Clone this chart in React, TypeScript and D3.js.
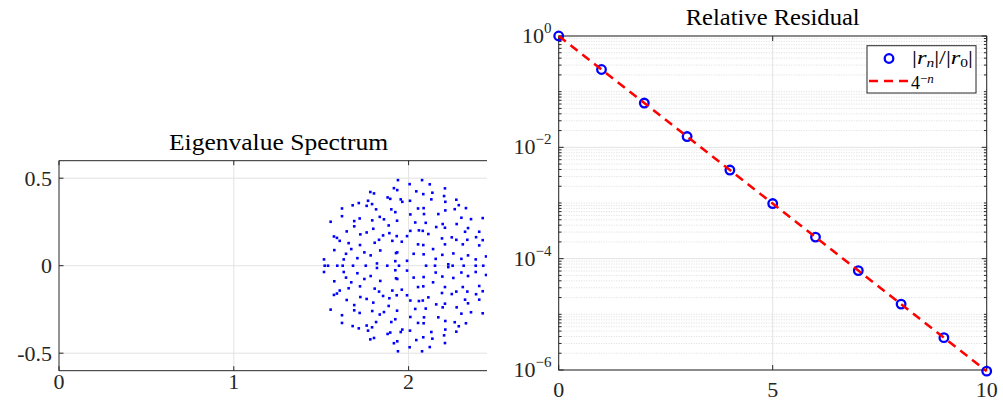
import React from 'react';
import * as d3 from 'd3';

// ---------------- data ----------------
// eigenvalues (upper half-plane)
const eigUpperRe = [
  1.781, 1.802, 1.880, 1.768, 1.791, 1.715, 1.680, 1.760, 1.619, 1.814, 1.619, 1.835, 1.720, 1.859, 1.554, 1.689, 1.792, 1.689, 1.886, 1.646, 1.798, 1.760, 1.724, 1.890, 1.854, 1.573, 1.590, 1.606, 1.831, 1.806, 1.657, 1.722, 1.672, 1.575, 1.838, 1.747, 1.642, 1.783, 1.707, 1.629, 1.516, 1.819,
  1.939, 2.006, 2.077, 2.121, 1.916, 1.935, 2.044, 2.084, 2.136, 1.895, 1.955, 1.964, 2.008, 2.130, 2.054, 2.086, 1.901, 1.924, 2.010, 2.088, 2.170, 1.934, 2.038, 2.098, 2.158, 2.059, 2.081, 2.010, 2.113, 1.932, 1.991, 1.907, 1.961, 2.054, 2.084, 2.140, 1.928, 1.935, 2.029, 2.086, 2.155, 1.924, 1.991,
  2.208, 2.203, 2.210, 2.273, 2.210, 2.264, 2.287, 2.328, 2.302, 2.357, 2.424, 2.195, 2.208, 2.275, 2.340, 2.323, 2.404, 2.191, 2.247, 2.273, 2.336, 2.386, 2.424, 2.208, 2.310, 2.404, 2.193, 2.256, 2.302, 2.340, 2.384, 2.443, 2.227,
];
const eigUpperIm = [
  0.421, 0.413, 0.390, 0.371, 0.352, 0.358, 0.345, 0.342, 0.327, 0.322, 0.283, 0.279, 0.270, 0.265, 0.251, 0.255, 0.259, 0.225, 0.230, 0.196, 0.211, 0.190, 0.179, 0.186, 0.173, 0.167, 0.159, 0.142, 0.148, 0.131, 0.129, 0.118, 0.095, 0.089, 0.087, 0.076, 0.068, 0.059, 0.043, 0.036, 0.036, 0.013,
  0.489, 0.466, 0.489, 0.465, 0.443, 0.432, 0.425, 0.409, 0.417, 0.382, 0.379, 0.365, 0.371, 0.379, 0.327, 0.329, 0.322, 0.306, 0.293, 0.295, 0.295, 0.257, 0.247, 0.245, 0.221, 0.202, 0.199, 0.199, 0.181, 0.169, 0.169, 0.142, 0.137, 0.122, 0.118, 0.095, 0.072, 0.076, 0.068, 0.065, 0.039, 0.026, 0.028,
  0.442, 0.398, 0.365, 0.377, 0.316, 0.323, 0.346, 0.329, 0.274, 0.266, 0.272, 0.238, 0.217, 0.238, 0.215, 0.194, 0.194, 0.156, 0.162, 0.148, 0.148, 0.163, 0.146, 0.122, 0.122, 0.116, 0.062, 0.070, 0.039, 0.059, 0.036, 0.053, 0.008,
];
// eigenvalues (lower half-plane: complex conjugates)
const eigLowerRe = [
  1.781, 1.802, 1.880, 1.768, 1.791, 1.715, 1.680, 1.760, 1.619, 1.814, 1.619, 1.835, 1.720, 1.859, 1.554, 1.689, 1.792, 1.689, 1.886, 1.646, 1.798, 1.760, 1.724, 1.890, 1.854, 1.573, 1.590, 1.606, 1.831, 1.806, 1.657, 1.722, 1.672, 1.575, 1.838, 1.747, 1.642, 1.783, 1.707, 1.629, 1.516, 1.819,
  1.939, 2.006, 2.077, 2.121, 1.916, 1.935, 2.044, 2.084, 2.136, 1.895, 1.955, 1.964, 2.008, 2.130, 2.054, 2.086, 1.901, 1.924, 2.010, 2.088, 2.170, 1.934, 2.038, 2.098, 2.158, 2.059, 2.081, 2.010, 2.113, 1.932, 1.991, 1.907, 1.961, 2.054, 2.084, 2.140, 1.928, 1.935, 2.029, 2.086, 2.155, 1.924, 1.991,
  2.208, 2.203, 2.210, 2.273, 2.210, 2.264, 2.287, 2.328, 2.302, 2.357, 2.424, 2.195, 2.208, 2.275, 2.340, 2.323, 2.404, 2.191, 2.247, 2.273, 2.336, 2.386, 2.424, 2.208, 2.310, 2.404, 2.193, 2.256, 2.302, 2.340, 2.384, 2.443, 2.227,
];
const eigLowerIm = [
  -0.421, -0.413, -0.390, -0.371, -0.352, -0.358, -0.345, -0.342, -0.327, -0.322, -0.283, -0.279, -0.270, -0.265, -0.251, -0.255, -0.259, -0.225, -0.230, -0.196, -0.211, -0.190, -0.179, -0.186, -0.173, -0.167, -0.159, -0.142, -0.148, -0.131, -0.129, -0.118, -0.095, -0.089, -0.087, -0.076, -0.068, -0.059, -0.043, -0.036, -0.036, -0.013,
  -0.489, -0.466, -0.489, -0.465, -0.443, -0.432, -0.425, -0.409, -0.417, -0.382, -0.379, -0.365, -0.371, -0.379, -0.327, -0.329, -0.322, -0.306, -0.293, -0.295, -0.295, -0.257, -0.247, -0.245, -0.221, -0.202, -0.199, -0.199, -0.181, -0.169, -0.169, -0.142, -0.137, -0.122, -0.118, -0.095, -0.072, -0.076, -0.068, -0.065, -0.039, -0.026, -0.028,
  -0.442, -0.398, -0.365, -0.377, -0.316, -0.323, -0.346, -0.329, -0.274, -0.266, -0.272, -0.238, -0.217, -0.238, -0.215, -0.194, -0.194, -0.156, -0.162, -0.148, -0.148, -0.163, -0.146, -0.122, -0.122, -0.116, -0.062, -0.070, -0.039, -0.059, -0.036, -0.053, -0.008,
];
// real eigenvalues
const eigRealRe = [1.520, 1.539, 1.592, 1.623, 1.682, 1.755, 1.878, 1.945, 2.100, 2.151, 2.252, 2.315, 2.384, 2.427];

const leftXTicks = [0, 1, 2];
const leftXLabels = ['0', '1', '2'];
const leftYTicks = [-0.5, 0, 0.5];
const leftYLabels = ['-0.5', '0', '0.5'];

// relative residual
const iterN = [0, 1, 2, 3, 4, 5, 6, 7, 8, 9, 10];
const residual = [1, 0.25, 0.0625, 0.015625, 0.00390625, 9.766e-4, 2.441e-4, 6.104e-5, 1.526e-5, 3.815e-6, 9.537e-7];
const rateRef = [1, 0.25, 0.0625, 0.015625, 0.00390625, 9.766e-4, 2.441e-4, 6.104e-5, 1.526e-5, 3.815e-6, 9.537e-7];

const rightXTicks = [0, 5, 10];
const rightXLabels = ['0', '5', '10'];
const rightYTicks = [1, 1e-2, 1e-4, 1e-6];
const rightYExp = ['0', '\u22122', '\u22124', '\u22126'];

// ---------------- styling ----------------
const FONT = '"Liberation Serif", "DejaVu Serif", serif';
const AX = '#262626';
const GRID = '#e3e3e3';
const MINOR = '#d4d4d4';
const BLUE = '#0000ff';
const RED = '#ff0000';

export default function App() {
  // left axes
  const lx = d3.scaleLinear().domain([0, 2.5]).range([59, 496]);
  const ly = d3.scaleLinear().domain([-0.6, 0.6]).range([370.7, 160.7]);
  const lRight = 487;

  // right axes
  const rx = d3.scaleLinear().domain([0, 10]).range([558.7, 986.7]);
  const ry = d3.scaleLog().domain([1e-6, 1]).range([370, 36]);

  const minorVals: number[] = [];
  for (let k = -6; k < 0; k++) {
    for (let m = 1; m <= 9; m++) {
      const v = m * Math.pow(10, k);
      if (m === 1 && k % 2 === 0) continue;
      minorVals.push(v);
    }
  }

  const line = d3.line<number>().x((_, i) => rx(iterN[i])).y((d) => ry(d));

  const upper = eigUpperRe.map((r, i) => [r, eigUpperIm[i]]);
  const lower = eigLowerRe.map((r, i) => [r, eigLowerIm[i]]);
  const reals = eigRealRe.map((r) => [r, 0]);
  const eigs = [...upper, ...lower, ...reals];

  return (
    <svg width={1003} height={401} style={{ position: 'absolute', left: 0, top: 0, background: '#fff' }} fontFamily={FONT}>
      <defs>
        <clipPath id="lclip">
          <rect x={59} y={160.7} width={lRight - 59} height={210} />
        </clipPath>
      </defs>
      <rect x={0} y={0} width={1003} height={401} fill="#fff" />

      {/* ---------- left: eigenvalue spectrum ---------- */}
      <g>
        {leftXTicks.filter((t) => t > 0).map((t) => (
          <line key={'lgx' + t} x1={lx(t)} x2={lx(t)} y1={ly(-0.6)} y2={ly(0.6)} stroke={GRID} strokeWidth={1} />
        ))}
        {leftYTicks.map((t) => (
          <line key={'lgy' + t} x1={59} x2={lRight} y1={ly(t)} y2={ly(t)} stroke={GRID} strokeWidth={1} />
        ))}
        <g clipPath="url(#lclip)">
          {eigs.map((p, i) => (
            <rect key={'e' + i} x={lx(p[0]) - 1.3} y={ly(p[1]) - 1.3} width={2.6} height={2.6} fill={BLUE} />
          ))}
        </g>
        {/* axes lines */}
        <line x1={59} x2={lRight} y1={ly(-0.6)} y2={ly(-0.6)} stroke={AX} strokeWidth={1} />
        <line x1={59} x2={lRight} y1={ly(0.6)} y2={ly(0.6)} stroke={AX} strokeWidth={1} />
        <line x1={59} x2={59} y1={ly(-0.6)} y2={ly(0.6)} stroke={AX} strokeWidth={1} />
        {leftXTicks.map((t) => (
          <g key={'lxt' + t}>
            <line x1={lx(t)} x2={lx(t)} y1={ly(-0.6)} y2={ly(-0.6) - 4.5} stroke={AX} />
            <line x1={lx(t)} x2={lx(t)} y1={ly(0.6)} y2={ly(0.6) + 4.5} stroke={AX} />
          </g>
        ))}
        {leftYTicks.map((t) => (
          <line key={'lyt' + t} x1={59} x2={63.5} y1={ly(t)} y2={ly(t)} stroke={AX} />
        ))}
        {leftXTicks.map((t, i) => (
          <text key={'lxl' + t} x={lx(t)} y={388.5} textAnchor="middle" fontSize={22} fill={AX}>{leftXLabels[i]}</text>
        ))}
        {leftYTicks.map((t, i) => (
          <text key={'lyl' + t} x={52} y={ly(t) + 7.5} textAnchor="end" fontSize={22} fill={AX}>{leftYLabels[i]}</text>
        ))}
        <text x={278.5} y={149.5} textAnchor="middle" fontSize={24} textLength={219} lengthAdjust="spacingAndGlyphs" fill="#000">Eigenvalue Spectrum</text>
      </g>

      {/* ---------- right: relative residual ---------- */}
      <g>
        {minorVals.map((v, i) => (
          <line key={'mg' + i} x1={rx(0)} x2={rx(10)} y1={ry(v)} y2={ry(v)} stroke={MINOR} strokeWidth={0.8} strokeDasharray="1,1.5" />
        ))}
        {rightYTicks.map((t) => (
          <line key={'rgy' + t} x1={rx(0)} x2={rx(10)} y1={ry(t)} y2={ry(t)} stroke={GRID} strokeWidth={1} />
        ))}
        {rightXTicks.map((t) => (
          <line key={'rgx' + t} x1={rx(t)} x2={rx(t)} y1={ry(1e-6)} y2={ry(1)} stroke={GRID} strokeWidth={1} />
        ))}
        {/* box */}
        <rect x={rx(0)} y={ry(1)} width={rx(10) - rx(0)} height={ry(1e-6) - ry(1)} fill="none" stroke={AX} strokeWidth={1} />
        {minorVals.map((v, i) => (
          <g key={'mt' + i}>
            <line x1={rx(0)} x2={rx(0) + 2.8} y1={ry(v)} y2={ry(v)} stroke={AX} />
            <line x1={rx(10)} x2={rx(10) - 2.8} y1={ry(v)} y2={ry(v)} stroke={AX} />
          </g>
        ))}
        {rightYTicks.map((t) => (
          <g key={'Mt' + t}>
            <line x1={rx(0)} x2={rx(0) + 5} y1={ry(t)} y2={ry(t)} stroke={AX} />
            <line x1={rx(10)} x2={rx(10) - 5} y1={ry(t)} y2={ry(t)} stroke={AX} />
          </g>
        ))}
        {rightXTicks.map((t) => (
          <g key={'rxt' + t}>
            <line x1={rx(t)} x2={rx(t)} y1={ry(1e-6)} y2={ry(1e-6) - 5} stroke={AX} />
            <line x1={rx(t)} x2={rx(t)} y1={ry(1)} y2={ry(1) + 5} stroke={AX} />
          </g>
        ))}
        {rightXTicks.map((t, i) => (
          <text key={'rxl' + t} x={rx(t)} y={396.5} textAnchor="middle" fontSize={22} fill={AX}>{rightXLabels[i]}</text>
        ))}
        {rightYTicks.map((t, i) => (
          <text key={'ryl' + t} x={551.5} y={ry(t) + 7} textAnchor="end" fontSize={22} fill={AX}>
            10<tspan dy={-10} fontSize={15}>{rightYExp[i]}</tspan>
          </text>
        ))}

        {/* data */}
        {residual.map((v, i) => (
          <circle key={'c' + i} cx={rx(iterN[i])} cy={ry(v)} r={4.3} fill="none" stroke={BLUE} strokeWidth={2.3} />
        ))}
        <path d={line(rateRef) || ''} fill="none" stroke={RED} strokeWidth={2.5} strokeDasharray="9,6" />

        <text x={772.7} y={24.5} textAnchor="middle" fontSize={24} textLength={174} lengthAdjust="spacingAndGlyphs" fill="#000">Relative Residual</text>

        {/* legend */}
        <rect x={867} y={45.7} width={109} height={47.3} fill="#fff" stroke={AX} strokeWidth={1} />
        <circle cx={889} cy={58.5} r={4.3} fill="none" stroke={BLUE} strokeWidth={2.3} />
        <text x={912} y={64} fontSize={19} fill="#000" textLength={61} lengthAdjust="spacingAndGlyphs">
          |<tspan fontStyle="italic">r</tspan><tspan fontStyle="italic" fontSize={12} dy={3}>n</tspan><tspan dy={-3}>|/|</tspan><tspan fontStyle="italic">r</tspan><tspan fontSize={12} dy={3}>0</tspan><tspan dy={-3}>|</tspan>
        </text>
        <line x1={869} x2={908} y1={81} y2={81} stroke={RED} strokeWidth={2.5} strokeDasharray="9,6" />
        <text x={911} y={89} fontSize={18} fill="#000">
          4<tspan dy={-6} fontSize={13}>{'\u2212'}</tspan><tspan fontSize={13} fontStyle="italic">n</tspan>
        </text>
      </g>
    </svg>
  );
}
